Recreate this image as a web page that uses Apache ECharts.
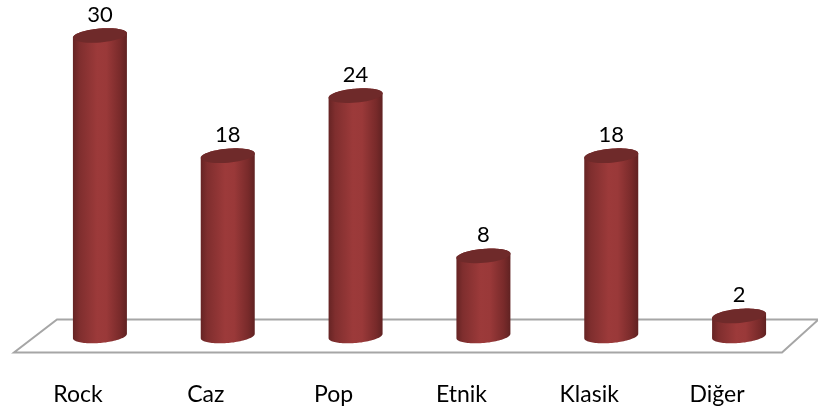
<!DOCTYPE html>
<html>
<head>
<meta charset="utf-8">
<style>html,body{margin:0;padding:0;background:#fff}#c{width:818px;height:412px}</style>
<script src="https://cdn.jsdelivr.net/npm/echarts@6/dist/echarts.min.js"></script>
</head>
<body>
<div id="c"></div>
<script>
const categories = ['Rock', 'Caz', 'Pop', 'Etnik', 'Klasik', 'Diğer'];
const values = [30, 18, 24, 8, 18, 2];

const chart = echarts.init(document.getElementById('c'), null, {renderer: 'canvas'});
const TILT = 5 * Math.PI / 180;
const RY = 7;

function arcPoints(cx, cy, rx, ry, from, to) {
  const pts = [];
  for (let i = 0; i <= 48; i++) {
    const t = from + (to - from) * i / 48;
    const ex = rx * Math.cos(t), ey = ry * Math.sin(t);
    pts.push([cx + ex * Math.cos(TILT) + ey * Math.sin(TILT),
              cy - ex * Math.sin(TILT) + ey * Math.cos(TILT)]);
  }
  return pts;
}

function renderCylinder(params, api) {
  const base = api.coord([api.value(0), 0]);
  const top = api.coord([api.value(0), api.value(1)]);
  const rx = api.size([1, 0])[0] * 0.212;
  const lower = arcPoints(base[0], base[1], rx, RY, Math.PI, 0);
  const body = arcPoints(top[0], top[1], rx, RY, 0, -Math.PI).concat(lower);
  return {
    type: 'group',
    children: [
      {type: 'polygon', shape: {points: body}, style: {fill: {
        type: 'linear', x: 0, y: 0, x2: 1, y2: 0,
        colorStops: [
          {offset: 0, color: '#662424'},
          {offset: 0.12, color: '#7f2e2e'},
          {offset: 0.45, color: '#9c3a3a'},
          {offset: 0.62, color: '#9a3939'},
          {offset: 0.88, color: '#782a2a'},
          {offset: 1, color: '#602222'}
        ]
      }}},
      {type: 'polygon', shape: {points: arcPoints(top[0], top[1], rx, RY, 0, 2 * Math.PI)},
        style: {fill: '#6f2a2a'}},
      {type: 'text', x: top[0], y: top[1] - 21, style: {
        text: String(api.value(1)), fill: '#000', fontFamily: 'Lato', fontSize: 22,
        align: 'center', verticalAlign: 'middle'
      }}
    ]
  };
}

function renderFloor(params, api) {
  const cs = params.coordSys;
  const y0 = api.coord([0, 0])[1];
  const backY = y0 - 16.5, frontY = y0 + 16.5;
  const l = cs.x, r = cs.x + cs.width;
  return {
    type: 'polyline',
    shape: {points: [[r + 15, backY], [l + 21, backY], [l - 22, frontY], [r - 21, frontY], [r + 15, backY + 0.5]]},
    style: {stroke: '#a6a6a6', lineWidth: 2, fill: null}
  };
}

chart.setOption({
  animation: false,
  backgroundColor: '#fff',
  grid: {left: 36, right: 15, top: 35.5, bottom: 76},
  xAxis: {
    type: 'category', data: categories,
    axisLine: {show: false}, axisTick: {show: false},
    axisLabel: {color: '#000', fontFamily: 'Lato', fontSize: 23, margin: 47, interval: 0, padding: [0, 44, 0, 0]}
  },
  yAxis: {type: 'value', min: 0, max: 30, show: false},
  series: [
    {type: 'custom', silent: true, z: 1, clip: false, data: [[0, 0]], renderItem: renderFloor},
    {type: 'custom', z: 2, clip: false, encode: {x: 0, y: 1},
     data: values.map((v, i) => [i, v]), renderItem: renderCylinder}
  ]
});
</script>
</body>
</html>
